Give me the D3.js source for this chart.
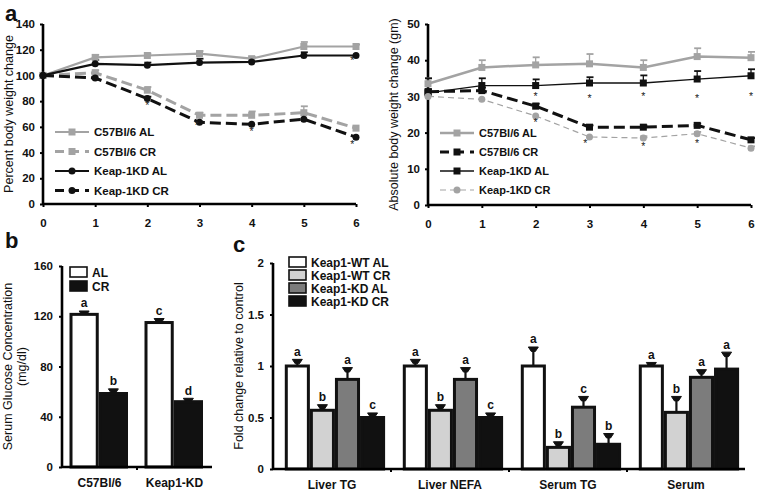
<!DOCTYPE html>
<html><head><meta charset="utf-8">
<script src="https://cdn.jsdelivr.net/npm/d3@7"></script>
<style>body{margin:0;background:#fff}svg{display:block;font-family:"Liberation Sans",Arial,sans-serif}</style>
</head><body>
<svg id="c" width="762" height="495"></svg>
<script>
// ---------- DATA ----------
const weeks = [0,1,2,3,4,5,6];
const xTicks = [0,1,2,3,4,5,6];

// Panel a (left): percent body weight change
const pctTicks = [0,20,40,60,80,100,120,140];
const pctC57AL   = [100,114,115.5,117,113,122.5,122.5];
const pctC57ALerr= [100,116,117,119,114.5,126,124];
const pctC57CR   = [100,102,88.5,69,69,71,59];
const pctC57CRerr= [100,104,91,71,72,76,60];
const pctKDAL    = [100,109,108,110,110.5,115.5,115.5];
const pctKDALerr = [100,112,110,113,111.5,118,116.5];
const pctKDCR    = [100,98,82,63.5,62,66,52];
const pctKDCRerr = [100,99,83.5,64.5,63,67,53];
const pctStars = [[2,77],[2.95,61.5],[4,57],[5.93,47],[5.93,112]];

// Panel a (right): absolute body weight
const absTicks = [0,10,20,30,40,50];
const absC57AL   = [33.5,38,38.7,39,38,41,40.7];
const absC57ALerr= [35,40,40.8,41.7,40,43.3,42.3];
const absC57CR   = [31.3,31.6,27.3,21.5,21.5,22,18];
const absC57CRerr= [32,32.5,28,22,22,22.5,18.5];
const absKDAL    = [31,33,33,33.7,33.7,34.8,35.7];
const absKDALerr = [35,35,34.7,35.3,35.8,37,37.5];
const absKDCR    = [30,29.2,24.6,18.8,18.5,19.7,15.7];
const absKDCRerr = [30.5,29.6,25,19.2,19,20.2,16.2];
const absStars = [[2,30],[3,29.5],[4,30],[5,29.5],[6,30],[2,23],[2.92,17],[4,16.4],[5,17]];

// Panel b: serum glucose
const bGroups = ["C57Bl/6","Keap1-KD"];
const bSeries = ["AL","CR"];
const bValues = [[121.5,58.5],[115,52]];
const bErr    = [[123,61],[117,53.5]];
const bLetters= [["a","b"],["c","d"]];
const bTicks = [0,40,80,120,160];

// Panel c: fold change
const cGroups = ["Liver TG","Liver NEFA","Serum TG","Serum"];
const cSeries = ["Keap1-WT AL","Keap1-WT CR","Keap1-KD AL","Keap1-KD CR"];
const cValues = [[1.0,0.57,0.87,0.5],[1.0,0.57,0.87,0.5],[1.0,0.21,0.6,0.24],[1.0,0.55,0.89,0.97]];
const cErr    = [[1.05,0.61,0.97,0.53],[1.05,0.61,0.97,0.53],[1.17,0.25,0.69,0.33],[1.02,0.69,0.95,1.12]];
const cLetters= [["a","b","a","c"],["a","b","a","c"],["a","b","c","b"],["a","b","a","a"]];
const cTicks = [0,0.5,1,1.5,2];
const cTickLabels = ["0","0.5","1","1.5","2"];

// ---------- DRAW ----------
const svg = d3.select("#c");
const GRAY = "#a3a3a3";

function axisStyle(g){
  g.selectAll("path.domain").attr("stroke","#000").attr("stroke-width",2.6);
  g.selectAll(".tick line").attr("stroke","#000").attr("stroke-width",2);
  g.selectAll("text").attr("font-size",11.5).attr("font-weight","bold").attr("fill","#111");
}

function lineChart(opt){
  const x = d3.scaleLinear().domain([0,6]).range(opt.xr);
  const y = d3.scaleLinear().domain(opt.yd).range(opt.yr);
  const g = svg.append("g");
  const ya = g.append("g").attr("transform",`translate(${opt.xr[0]},0)`)
    .call(d3.axisLeft(y).tickValues(opt.yTicks).tickFormat(d3.format("d")).tickSize(3).tickPadding(5));
  axisStyle(ya);
  const xa = g.append("g").attr("transform",`translate(0,${opt.yr[0]})`)
    .call(d3.axisBottom(x).tickValues(xTicks).tickFormat(d3.format("d")).tickSize(3).tickPadding(12));
  axisStyle(xa);
  xa.select("path.domain").attr("d",`M${opt.xr[0]},0H${opt.xr[1]}`);
  ya.select("path.domain").attr("d",`M0,${opt.yr[0]}V${opt.yr[1]}`);
  g.append("text").attr("transform",`translate(${opt.labelX},${(opt.yr[0]+opt.yr[1])/2}) rotate(-90)`)
    .attr("text-anchor","middle").attr("font-size",12.5).attr("fill","#111").text(opt.ylabel);
  const line = d3.line().x((d,i)=>x(weeks[i])).y(d=>y(d));
  opt.series.forEach(s=>{
    s.err.forEach((e,i)=>{
      if(e - s.vals[i] < 0.01*(opt.yd[1])) return;
      g.append("line").attr("x1",x(weeks[i])).attr("x2",x(weeks[i]))
        .attr("y1",y(s.vals[i])).attr("y2",y(e)).attr("stroke",s.color).attr("stroke-width",1.3);
      g.append("line").attr("x1",x(weeks[i])-3).attr("x2",x(weeks[i])+4)
        .attr("y1",y(e)).attr("y2",y(e)).attr("stroke",s.color).attr("stroke-width",1.8);
    });
  });
  opt.series.forEach(s=>{
    g.append("path").attr("d",line(s.vals)).attr("fill","none").attr("stroke",s.color)
      .attr("stroke-width",s.w).attr("stroke-dasharray",s.dash||null);
    s.vals.forEach((v,i)=>drawMarker(g,s,x(weeks[i]),y(v)));
  });
  opt.stars.forEach(st=>{
    g.append("text").attr("x",x(st[0])).attr("y",y(st[1])+4).attr("text-anchor","middle")
      .attr("font-size",10.5).attr("fill","#222").text("*");
  });
  opt.series.forEach((s,i)=>{
    const ly = opt.leg.y + i*opt.leg.dy;
    g.append("line").attr("x1",opt.leg.x).attr("x2",opt.leg.x+opt.leg.len).attr("y1",ly).attr("y2",ly)
      .attr("stroke",s.color).attr("stroke-width",s.w).attr("stroke-dasharray",s.legDash||s.dash||null);
    drawMarker(g,s,opt.leg.x+opt.leg.len/2,ly);
    g.append("text").attr("x",opt.leg.x+opt.leg.len+5).attr("y",ly+4).attr("font-size",opt.leg.fs)
      .attr("font-weight","bold").attr("fill","#111").text(s.name);
  });
}
function drawMarker(g,s,cx,cy){
  if(s.marker==="square") g.append("rect").attr("x",cx-s.ms/2).attr("y",cy-s.ms/2).attr("width",s.ms).attr("height",s.ms).attr("fill",s.color);
  else g.append("circle").attr("cx",cx).attr("cy",cy).attr("r",s.ms/2).attr("fill",s.color);
}

lineChart({
  xr:[43,356], yd:[0,140], yr:[204,24], yTicks:pctTicks, labelX:13, ylabel:"Percent body weight change",
  stars:pctStars, leg:{x:55,y:132,dy:19.5,len:34,fs:11.5},
  series:[
    {name:"C57Bl/6 AL",vals:pctC57AL,err:pctC57ALerr,color:GRAY,w:2.2,marker:"square",ms:7},
    {name:"C57Bl/6 CR",vals:pctC57CR,err:pctC57CRerr,color:GRAY,w:3,dash:"11,5",marker:"square",ms:7,legDash:"9,6"},
    {name:"Keap-1KD AL",vals:pctKDAL,err:pctKDALerr,color:"#111",w:2.2,marker:"circle",ms:7},
    {name:"Keap-1KD CR",vals:pctKDCR,err:pctKDCRerr,color:"#111",w:3,dash:"11,5",marker:"circle",ms:7,legDash:"9,6"}
  ]
});
lineChart({
  xr:[428,751], yd:[0,50], yr:[205,24], yTicks:absTicks, labelX:398, ylabel:"Absolute body weight change (gm)",
  stars:absStars, leg:{x:440,y:133,dy:19,len:34,fs:11},
  series:[
    {name:"C57Bl/6 AL",vals:absC57AL,err:absC57ALerr,color:GRAY,w:2.5,marker:"square",ms:7},
    {name:"C57Bl/6 CR",vals:absC57CR,err:absC57CRerr,color:"#111",w:3,dash:"11,5",marker:"square",ms:7,legDash:"9,6"},
    {name:"Keap-1KD AL",vals:absKDAL,err:absKDALerr,color:"#111",w:1.3,marker:"square",ms:7},
    {name:"Keap-1KD CR",vals:absKDCR,err:absKDCRerr,color:GRAY,w:1.2,dash:"6,4",marker:"circle",ms:7}
  ]
});

function barChart(opt){
  const x0 = d3.scaleBand().domain(opt.groups).range(opt.xr);
  const bw = x0.bandwidth();
  const x1 = d3.scaleBand().domain(opt.seriesNames).range([bw*opt.inner[0],bw*opt.inner[1]]);
  const y = d3.scaleLinear().domain(opt.yd).range(opt.yr);
  const g = svg.append("g");
  opt.groups.forEach((gr,gi)=>{
    opt.seriesNames.forEach((sn,si)=>{
      const bx = x0(gr)+x1(sn), w = x1.bandwidth();
      const v = opt.values[gi][si], e = opt.err[gi][si];
      g.append("line").attr("x1",bx+w/2).attr("x2",bx+w/2).attr("y1",y(v)).attr("y2",y(e))
        .attr("stroke","#111").attr("stroke-width",2.2);
      g.append("path").attr("d",`M${bx+w/2-5},${y(e)-1.5}H${bx+w/2+5}L${bx+w/2+2},${y(e)+3}H${bx+w/2-2}Z`)
        .attr("fill","#111").attr("stroke","#111").attr("stroke-width",1);
      g.append("rect").attr("x",bx+1.5).attr("y",y(v)).attr("width",w-3).attr("height",y(0)-y(v))
        .attr("fill",opt.colors[si]).attr("stroke","#111").attr("stroke-width",3);
      g.append("text").attr("x",bx+w/2).attr("y",y(e)-5).attr("text-anchor","middle")
        .attr("font-size",12).attr("font-weight","bold").attr("fill","#111").text(opt.letters[gi][si]);
    });
  });
  const ya = g.append("g").attr("transform",`translate(${opt.xr[0]},0)`)
    .call(d3.axisLeft(y).tickValues(opt.yTicks).tickFormat((d,i)=>opt.yTickLabels?opt.yTickLabels[i]:d).tickSize(3).tickPadding(6));
  axisStyle(ya);
  ya.select("path.domain").attr("d",`M0,${opt.yr[0]}V${opt.yr[1]}`);
  const xa = g.append("g").attr("transform",`translate(0,${opt.yr[0]})`)
    .call(d3.axisBottom(x0).tickSize(0).tickPadding(11));
  axisStyle(xa);
  xa.select("path.domain").attr("d",`M${opt.xr[0]},0H${opt.xr[1]}`);
  xa.selectAll("text").attr("font-size",12);
  opt.groups.slice(1).forEach(gr=>{
    g.append("line").attr("x1",x0(gr)).attr("x2",x0(gr)).attr("y1",opt.yr[0]).attr("y2",opt.yr[0]+3)
      .attr("stroke","#000").attr("stroke-width",2);
  });
  const lab = g.append("text").attr("transform",`translate(${opt.labelX},${(opt.yr[0]+opt.yr[1])/2}) rotate(-90)`)
    .attr("text-anchor","middle").attr("font-size",12.5).attr("fill","#111");
  opt.ylabel.forEach((t,i)=>lab.append("tspan").attr("x",0).attr("dy",i?14:0).text(t));
  opt.seriesNames.forEach((sn,si)=>{
    const ly = opt.leg.y + si*opt.leg.dy;
    g.append("rect").attr("x",opt.leg.x).attr("y",ly-opt.leg.h/2).attr("width",opt.leg.w).attr("height",opt.leg.h)
      .attr("fill",opt.colors[si]).attr("stroke","#111").attr("stroke-width",1.6);
    g.append("text").attr("x",opt.leg.x+opt.leg.w+5).attr("y",ly+4.5).attr("font-size",12)
      .attr("font-weight","bold").attr("fill","#111").text(sn);
  });
}

barChart({
  groups:bGroups, seriesNames:bSeries, values:bValues, err:bErr, letters:bLetters,
  colors:["#fff","#111"], xr:[62,212], inner:[0.1,0.88], yd:[0,160], yr:[467,266], yTicks:bTicks,
  labelX:12, ylabel:["Serum Glucose Concentration","(mg/dl)"],
  leg:{x:70,y:272,dy:14,w:17,h:10}
});
barChart({
  groups:cGroups, seriesNames:cSeries, values:cValues, err:cErr, letters:cLetters,
  colors:["#fff","#d2d2d2","#7c7c7c","#111"], xr:[273,745], inner:[0.1,0.95], yd:[0,2], yr:[469,263],
  yTicks:cTicks, yTickLabels:cTickLabels, labelX:243, ylabel:["Fold change relative to control"],
  leg:{x:289,y:262,dy:13,w:17,h:10}
});

[["a",5,21],["b",5,248],["c",233,252]].forEach(p=>{
  svg.append("text").attr("x",p[1]).attr("y",p[2]).attr("font-size",22).attr("font-weight","bold").attr("fill","#111").text(p[0]);
});
</script>
</body></html>
